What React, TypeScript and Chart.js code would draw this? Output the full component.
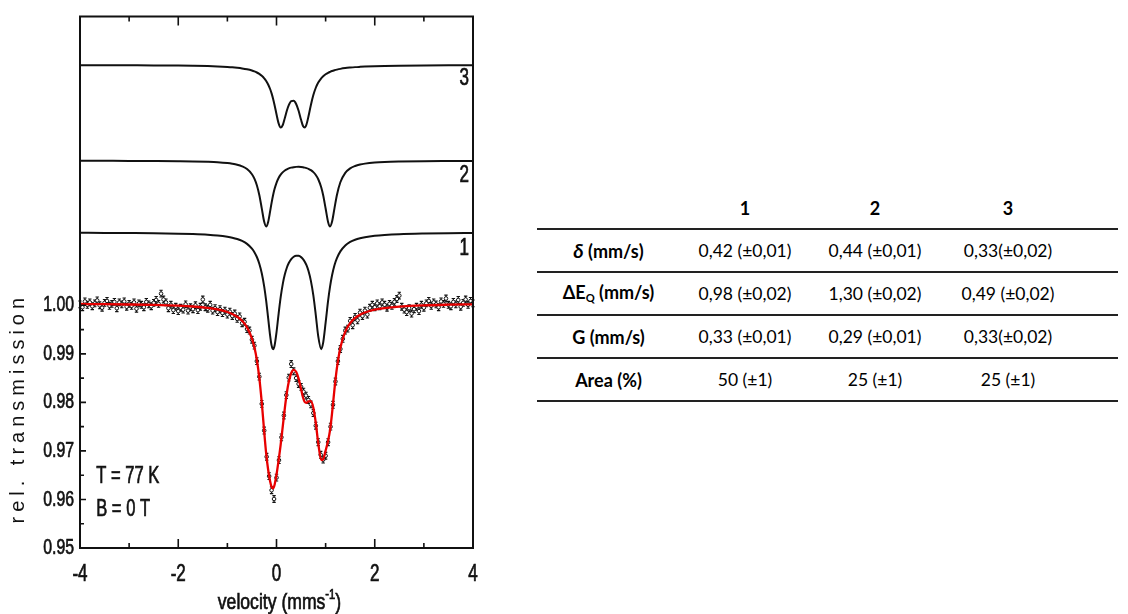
import React, { useEffect, useRef } from 'react';
import { Chart, registerables } from 'chart.js';

Chart.register(...registerables);

// ---------- measured spectrum (velocity in mm/s, relative transmission) ----------
const DATA_VELOCITY = [
  -4, -3.95, -3.9, -3.85, -3.8, -3.75, -3.7, -3.65, -3.6, -3.55,
  -3.5, -3.45, -3.4, -3.35, -3.3, -3.25, -3.2, -3.15, -3.1, -3.05,
  -3, -2.95, -2.9, -2.85, -2.8, -2.75, -2.7, -2.65, -2.6, -2.55,
  -2.5, -2.45, -2.4, -2.35, -2.3, -2.25, -2.2, -2.15, -2.1, -2.05,
  -2, -1.95, -1.9, -1.85, -1.8, -1.75, -1.7, -1.65, -1.6, -1.55,
  -1.5, -1.45, -1.4, -1.35, -1.3, -1.25, -1.2, -1.15, -1.1, -1.05,
  -1, -0.95, -0.9, -0.85, -0.8, -0.75, -0.7, -0.65, -0.6, -0.55,
  -0.5, -0.45, -0.4, -0.35, -0.3, -0.25, -0.2, -0.15, -0.1, -0.05,
  0, 0.05, 0.1, 0.15, 0.2, 0.25, 0.3, 0.35, 0.4, 0.45,
  0.5, 0.55, 0.6, 0.65, 0.7, 0.75, 0.8, 0.85, 0.9, 0.95,
  1, 1.05, 1.1, 1.15, 1.2, 1.25, 1.3, 1.35, 1.4, 1.45,
  1.5, 1.55, 1.6, 1.65, 1.7, 1.75, 1.8, 1.85, 1.9, 1.95,
  2, 2.05, 2.1, 2.15, 2.2, 2.25, 2.3, 2.35, 2.4, 2.45,
  2.5, 2.55, 2.6, 2.65, 2.7, 2.75, 2.8, 2.85, 2.9, 2.95,
  3, 3.05, 3.1, 3.15, 3.2, 3.25, 3.3, 3.35, 3.4, 3.45,
  3.5, 3.55, 3.6, 3.65, 3.7, 3.75, 3.8, 3.85, 3.9, 3.95,
  4,
];

const DATA_TRANSMISSION = [
  1.0002, 0.9996, 1.0008, 1.0001, 1.0006, 0.9998, 1.0004, 1.001, 1.0, 0.9995,
  1.0005, 1.0009, 0.9999, 1.0003, 1.0007, 0.9994, 1.0006, 1.0002, 1.0008, 0.9997,
  1.0003, 0.9999, 1.0006, 0.9993, 1.0004, 1.0001, 0.9996, 1.0007, 1.0002, 0.9998,
  1.0005, 1.0011, 1.0003, 1.0024, 1.0012, 1.0006, 0.9994, 1.0001, 0.999, 0.9997,
  0.9988, 0.9995, 0.9991, 1.0002, 0.9989, 0.9996, 0.9992, 1.0, 0.999, 0.9997,
  1.0012, 0.9996, 0.9993, 1.0001, 0.9989, 0.9994, 0.9986, 0.9992, 0.9984, 0.9989,
  0.9981, 0.9987, 0.9978, 0.9983, 0.9972, 0.9977, 0.9963, 0.9966, 0.9951, 0.9948,
  0.9929, 0.9917, 0.9885, 0.9853, 0.9797, 0.9742, 0.9688, 0.9648, 0.9619, 0.9601,
  0.9645, 0.9681, 0.9728, 0.9773, 0.9815, 0.9851, 0.9879, 0.9864, 0.985, 0.9838,
  0.9832, 0.9822, 0.9814, 0.9805, 0.9796, 0.9778, 0.9752, 0.9718, 0.9692, 0.9682,
  0.969, 0.9718, 0.975, 0.9795, 0.9843, 0.9885, 0.991, 0.9931, 0.9948, 0.9952,
  0.9968, 0.9959, 0.9976, 0.9969, 0.9985, 0.9978, 0.9989, 0.9981, 0.9995, 1.0001,
  0.9996, 1.0004, 0.9998, 1.0006, 1.0001, 0.9995, 1.0003, 0.9999, 1.0007, 1.0013,
  1.002, 0.9997, 0.9991, 0.9986, 0.9994, 0.9983, 0.9992, 0.9997, 0.9988, 1.0001,
  0.9995, 1.0004, 1.0009, 0.9999, 1.0006, 1.0002, 0.9996, 1.0008, 1.0003, 1.0014,
  1.0001, 0.9998, 1.0007, 1.0002, 1.0011, 0.9997, 1.0005, 1.0012, 1.0001, 1.0009,
  1.0004,
];

const ERROR_HALF = 0.0007;

// ---------- fitted curve and the three doublet sub-spectra (offset for display) ----------
const CURVE_VELOCITY = [
  -4, -3.5, -3, -2.5, -2, -1.7, -1.4, -1.2, -1, -0.9,
  -0.8, -0.7, -0.6, -0.5, -0.45, -0.4, -0.35, -0.3, -0.25, -0.21,
  -0.17, -0.13, -0.1, -0.07, -0.04, 0, 0.04, 0.085, 0.13, 0.17,
  0.21, 0.25, 0.3, 0.35, 0.4, 0.45, 0.5, 0.54, 0.575, 0.61,
  0.65, 0.7, 0.75, 0.8, 0.85, 0.91, 0.95, 1, 1.05, 1.09,
  1.13, 1.18, 1.23, 1.3, 1.4, 1.5, 1.6, 1.7, 1.8, 2,
  2.2, 2.5, 3, 3.5, 4,
];

const FIT_TRANSMISSION = [
  1.00027, 1.00023, 1.00017, 1.00008, 0.99992, 0.99975, 0.99946, 0.99914, 0.99862, 0.99822,
  0.99765, 0.9968, 0.99546, 0.99316, 0.99134, 0.98876, 0.98507, 0.97999, 0.97391, 0.96945,
  0.96612, 0.96375, 0.9626, 0.96228, 0.96299, 0.96513, 0.96786, 0.9713, 0.97526, 0.97884,
  0.98194, 0.98426, 0.98605, 0.98671, 0.98631, 0.9849, 0.98274, 0.98101, 0.98008, 0.97989,
  0.98022, 0.98026, 0.97888, 0.97575, 0.97156, 0.96813, 0.96825, 0.97006, 0.97208, 0.97429,
  0.9777, 0.98275, 0.98711, 0.99128, 0.99458, 0.99634, 0.99739, 0.99806, 0.99852, 0.9991,
  0.99944, 0.99974, 0.99999, 1.00012, 1.0002,
];

const SITE_1 = [
  1.01493, 1.01491, 1.01488, 1.01484, 1.01476, 1.01467, 1.01453, 1.01437, 1.01411, 1.01392,
  1.01365, 1.01326, 1.01266, 1.01168, 1.01095, 1.00995, 1.00857, 1.00662, 1.00385, 1.0009,
  0.99735, 0.99376, 0.99174, 0.99096, 0.99166, 0.99442, 0.99799, 1.00167, 1.00452, 1.00638,
  1.00774, 1.00871, 1.00952, 1.01, 1.01022, 1.01019, 1.00993, 1.00952, 1.00899, 1.00826,
  1.00711, 1.00504, 1.00203, 0.99799, 0.9936, 0.99096, 0.9923, 0.99642, 1.0009, 1.00385,
  1.00614, 1.00824, 1.00971, 1.01111, 1.01233, 1.01305, 1.01351, 1.01382, 1.01404, 1.01433,
  1.0145, 1.01466, 1.01479, 1.01486, 1.0149,
];

const SITE_2 = [
  1.02977, 1.02976, 1.02975, 1.02972, 1.02968, 1.02964, 1.02956, 1.02947, 1.0293, 1.02916,
  1.02896, 1.02863, 1.02807, 1.02701, 1.0261, 1.02474, 1.02273, 1.01998, 1.01719, 1.01624,
  1.01717, 1.01934, 1.0211, 1.02266, 1.02394, 1.02524, 1.02618, 1.02692, 1.02744, 1.02777,
  1.02802, 1.0282, 1.02836, 1.02846, 1.02852, 1.02853, 1.0285, 1.02845, 1.02837, 1.02827,
  1.02812, 1.02784, 1.02744, 1.02685, 1.02597, 1.02431, 1.02266, 1.01994, 1.01717, 1.01624,
  1.01719, 1.01998, 1.02273, 1.02535, 1.02729, 1.02822, 1.02871, 1.02901, 1.02919, 1.02941,
  1.02953, 1.02962, 1.0297, 1.02973, 1.02975,
];

const SITE_3 = [
  1.04947, 1.04946, 1.04944, 1.04942, 1.04938, 1.04934, 1.04928, 1.04921, 1.04911, 1.04904,
  1.04894, 1.04881, 1.04863, 1.04837, 1.04819, 1.04796, 1.04767, 1.04728, 1.04677, 1.04622,
  1.0455, 1.04456, 1.04366, 1.04257, 1.04128, 1.03936, 1.03759, 1.03661, 1.0372, 1.03859,
  1.04008, 1.04125, 1.04207, 1.04214, 1.04148, 1.04008, 1.03821, 1.03694, 1.03661, 1.03725,
  1.03888, 1.04128, 1.04332, 1.04482, 1.04588, 1.04677, 1.04719, 1.0476, 1.04791, 1.0481,
  1.04827, 1.04843, 1.04856, 1.04871, 1.04887, 1.04898, 1.04907, 1.04913, 1.04918, 1.04926,
  1.04931, 1.04936, 1.04941, 1.04944, 1.04945,
];

const SITE_LABELS = ['1', '2', '3'];

// ---------- axes ----------
const X_MIN = -4;
const X_MAX = 4;
const Y_MIN = 0.95;
const Y_MAX = 1.0595;
const X_TICK_LABELS = [-4, -2, 0, 2, 4];
const X_INNER_TICKS = [-3, -2, -1, 0, 1, 2, 3];
const Y_TICK_LABELS = [0.95, 0.96, 0.97, 0.98, 0.99, 1.0];
const Y_INNER_TICKS = [0.955, 0.96, 0.965, 0.97, 0.975, 0.98, 0.985, 0.99, 0.995, 1.0];
const X_TITLE = 'velocity (mms';
const X_TITLE_SUP = '-1';
const Y_TITLE = 'rel. transmission';
const NOTES = ['T = 77 K', 'B = 0 T'];

// ---------- table ----------
const TABLE_COLUMNS = ['1', '2', '3'];
const ROW_DELTA = ['0,42 (±0,01)', '0,44 (±0,01)', '0,33(±0,02)'];
const ROW_DEQ = ['0,98 (±0,02)', '1,30 (±0,02)', '0,49 (±0,02)'];
const ROW_G = ['0,33 (±0,01)', '0,29 (±0,01)', '0,33(±0,02)'];
const ROW_AREA = ['50 (±1)', '25 (±1)', '25 (±1)'];

const SANS = "'Liberation Sans', Arial, sans-serif";
const INK = '#111111';

// condensed text: Liberation Sans squeezed horizontally (Arial Narrow look)
function narrowText(
  ctx: CanvasRenderingContext2D,
  text: string,
  x: number,
  y: number,
  size: number,
  align: CanvasTextAlign,
  squeeze = 0.74,
) {
  ctx.save();
  ctx.translate(x, y);
  ctx.scale(squeeze, 1);
  ctx.font = `${size}px ${SANS}`;
  ctx.textAlign = align;
  ctx.textBaseline = 'middle';
  ctx.fillStyle = INK;
  ctx.strokeStyle = INK;
  ctx.lineWidth = 0.7;
  ctx.fillText(text, 0, 0);
  ctx.strokeText(text, 0, 0);
  ctx.restore();
}

function narrowWidth(ctx: CanvasRenderingContext2D, text: string, size: number, squeeze = 0.74) {
  ctx.save();
  ctx.font = `${size}px ${SANS}`;
  const w = ctx.measureText(text).width * squeeze;
  ctx.restore();
  return w;
}

const decorPlugin = {
  id: 'decor',
  beforeDatasetDraw(chart: any, args: any) {
    if (args.index !== 1) return;
    const { ctx } = chart;
    const x = chart.scales.x;
    const y = chart.scales.y;
    ctx.save();
    ctx.strokeStyle = INK;
    ctx.lineWidth = 1.1;
    ctx.beginPath();
    DATA_VELOCITY.forEach((v, i) => {
      const px = x.getPixelForValue(v);
      const y1 = y.getPixelForValue(DATA_TRANSMISSION[i] + ERROR_HALF);
      const y2 = y.getPixelForValue(DATA_TRANSMISSION[i] - ERROR_HALF);
      ctx.moveTo(px, y1);
      ctx.lineTo(px, y2);
      ctx.moveTo(px - 1.7, y1);
      ctx.lineTo(px + 1.7, y1);
      ctx.moveTo(px - 1.7, y2);
      ctx.lineTo(px + 1.7, y2);
    });
    ctx.stroke();
    ctx.restore();
  },
  afterDraw(chart: any) {
    const { ctx, chartArea } = chart;
    const x = chart.scales.x;
    const y = chart.scales.y;
    const { left, right, top, bottom } = chartArea;
    ctx.save();
    // frame
    ctx.strokeStyle = INK;
    ctx.lineWidth = 2;
    ctx.strokeRect(left, top, right - left, bottom - top);
    // inward ticks
    ctx.lineWidth = 1.6;
    ctx.beginPath();
    X_INNER_TICKS.forEach((v) => {
      const px = x.getPixelForValue(v);
      const len = v % 2 === 0 ? 9 : 5;
      ctx.moveTo(px, bottom);
      ctx.lineTo(px, bottom - len);
      ctx.moveTo(px, top);
      ctx.lineTo(px, top + len);
    });
    Y_INNER_TICKS.forEach((v, i) => {
      const py = y.getPixelForValue(v);
      const len = i % 2 === 1 ? 6 : 4;
      ctx.moveTo(left, py);
      ctx.lineTo(left + len, py);
    });
    ctx.stroke();
    ctx.restore();

    // tick labels (from the scales)
    X_TICK_LABELS.forEach((v) => {
      narrowText(ctx, String(v), x.getPixelForValue(v), bottom + 27, 23, 'center');
    });
    Y_TICK_LABELS.forEach((v) => {
      narrowText(ctx, v.toFixed(2), left - 6, y.getPixelForValue(v), 22, 'right', 0.72);
    });

    // sub-spectrum labels
    const labelValues = [1.0117, 1.0268, 1.0467];
    SITE_LABELS.forEach((lab, i) => {
      narrowText(ctx, lab, x.getPixelForValue(3.92), y.getPixelForValue(labelValues[i]), 23, 'right');
    });
    // notes
    narrowText(ctx, NOTES[0], x.getPixelForValue(-3.67), y.getPixelForValue(0.9646), 23, 'left', 0.72);
    narrowText(ctx, NOTES[1], x.getPixelForValue(-3.67), y.getPixelForValue(0.958), 23, 'left', 0.72);

    // x title with superscript
    const sq = 0.8;
    const w1 = narrowWidth(ctx, X_TITLE, 22, sq);
    const w2 = narrowWidth(ctx, X_TITLE_SUP, 14, sq);
    const w3 = narrowWidth(ctx, ')', 22, sq);
    const cx = (left + right) / 2 + 3;
    const ty = 603;
    let sx = cx - (w1 + w2 + w3) / 2;
    narrowText(ctx, X_TITLE, sx, ty, 22, 'left', sq);
    sx += w1;
    narrowText(ctx, X_TITLE_SUP, sx, ty - 8, 14, 'left', sq);
    sx += w2;
    narrowText(ctx, ')', sx, ty, 22, 'left', sq);

    // y title, letter-spaced
    ctx.save();
    ctx.translate(18, y.getPixelForValue(0.9788));
    ctx.rotate(-Math.PI / 2);
    ctx.font = `20px ${SANS}`;
    (ctx as any).letterSpacing = '5px';
    ctx.textAlign = 'center';
    ctx.textBaseline = 'middle';
    ctx.fillStyle = INK;
    ctx.fillText(Y_TITLE, 0, 0);
    ctx.restore();
  },
};

function toPoints(xs: number[], ys: number[]) {
  return xs.map((v, i) => ({ x: v, y: ys[i] }));
}

function MossbauerChart() {
  const ref = useRef<HTMLCanvasElement | null>(null);
  useEffect(() => {
    if (!ref.current) return;
    const curve = (label: string, ys: number[], color: string, width: number, order: number) => ({
      label,
      data: toPoints(CURVE_VELOCITY, ys),
      showLine: true,
      borderColor: color,
      borderWidth: width,
      pointRadius: 0,
      cubicInterpolationMode: 'monotone' as const,
      fill: false,
      order,
    });
    const chart = new Chart(ref.current, {
      type: 'scatter',
      data: {
        datasets: [
          curve('fit', FIT_TRANSMISSION, 'rgb(232,0,0)', 2.3, 0),
          {
            label: 'data',
            data: toPoints(DATA_VELOCITY, DATA_TRANSMISSION),
            showLine: false,
            pointRadius: 1.8,
            pointBorderWidth: 1,
            pointBackgroundColor: '#ffffff',
            pointBorderColor: INK,
            order: 1,
          } as any,
          curve('1', SITE_1, INK, 2, 2),
          curve('2', SITE_2, INK, 2, 2),
          curve('3', SITE_3, INK, 2, 2),
        ],
      },
      options: {
        animation: false,
        responsive: false,
        devicePixelRatio: 1,
        events: [],
        layout: { padding: { left: 0, right: 17, top: 16.5, bottom: 0 } },
        plugins: { legend: { display: false }, tooltip: { enabled: false } },
        scales: {
          x: {
            type: 'linear',
            min: X_MIN,
            max: X_MAX,
            grid: { display: false, drawTicks: false },
            border: { display: false },
            ticks: { display: false, stepSize: 2 },
            afterFit: (scale: any) => {
              scale.height = 66;
            },
          },
          y: {
            type: 'linear',
            min: Y_MIN,
            max: Y_MAX,
            grid: { display: false, drawTicks: false },
            border: { display: false },
            ticks: { display: false, stepSize: 0.01 },
            afterFit: (scale: any) => {
              scale.width = 80;
            },
          },
        },
      },
      plugins: [decorPlugin],
    });
    return () => chart.destroy();
  }, []);
  return (
    <canvas
      ref={ref}
      width={490}
      height={614}
      style={{ position: 'absolute', left: 0, top: 0, width: 490, height: 614 }}
    />
  );
}

const rowStyle: React.CSSProperties = {
  display: 'flex',
  alignItems: 'center',
  height: 41,
  borderBottom: '2px solid #222222',
};
const cellWidths = [143, 130, 130, 178];

function Cell({ i, bold, children }: { i: number; bold?: boolean; children: React.ReactNode }) {
  return (
    <div
      style={{
        width: cellWidths[i],
        boxSizing: 'border-box',
        paddingRight: i === 3 ? 42 : 0,
        textAlign: 'center',
        fontWeight: bold ? 700 : 400,
        fontSize: bold ? 18 : 17.5,
        whiteSpace: 'nowrap',
      }}
    >
      {children}
    </div>
  );
}

function ParamTable() {
  const rows: { label: React.ReactNode; values: string[] }[] = [
    { label: (<><i style={{ fontSize: '1.1em' }}>δ</i> (mm/s)</>), values: ROW_DELTA },
    { label: (<>ΔE<sub style={{ fontSize: '0.62em', verticalAlign: '-0.3em' }}>Q</sub> (mm/s)</>), values: ROW_DEQ },
    { label: 'G (mm/s)', values: ROW_G },
    { label: 'Area (%)', values: ROW_AREA },
  ];
  return (
    <div
      style={{
        position: 'absolute',
        left: 537,
        top: 187,
        width: 581,
        fontFamily: "Lato, 'Noto Sans', sans-serif",
        color: '#000000',
        lineHeight: 1,
      }}
    >
      <div style={rowStyle}>
        <Cell i={0} bold>{''}</Cell>
        {TABLE_COLUMNS.map((c, k) => (
          <Cell key={c} i={k + 1} bold>{c}</Cell>
        ))}
      </div>
      {rows.map((r, ri) => (
        <div key={ri} style={rowStyle}>
          <Cell i={0} bold>{r.label}</Cell>
          {r.values.map((v, k) => (
            <Cell key={k} i={k + 1}>{v}</Cell>
          ))}
        </div>
      ))}
    </div>
  );
}

export default function App() {
  return (
    <div style={{ position: 'absolute', left: 0, top: 0, width: 1128, height: 614, background: '#ffffff', overflow: 'hidden' }}>
      <MossbauerChart />
      <ParamTable />
    </div>
  );
}
